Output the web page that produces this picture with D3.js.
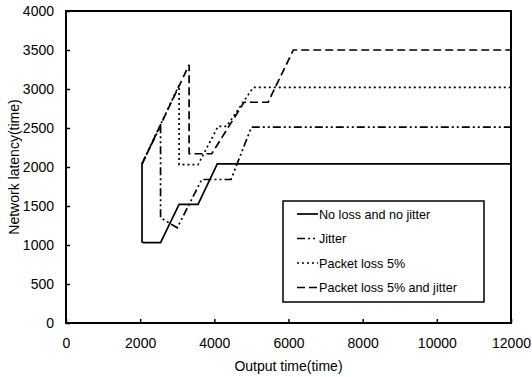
<!DOCTYPE html>
<html>
<head>
<meta charset="utf-8">
<script src="https://cdn.jsdelivr.net/npm/d3@7"></script>
<style>
  body { margin: 0; background: #fff; }
  text { font-family: Arial, "Liberation Sans", sans-serif; fill: #000; }
</style>
</head>
<body>
<svg id="chart" width="532" height="377"></svg>
<script>
// series, output time -> latency
const noLossTime    = [2050, 2050, 2100, 2550, 3050, 3560, 4080, 12000];
const noLossLatency = [2050, 1040, 1030, 1030, 1520, 1520, 2040, 2040];

const jitterTime    = [2050, 2550, 2550, 3000, 3660, 4450, 5000, 12000];
const jitterLatency = [2040, 2530, 1350, 1220, 1840, 1840, 2510, 2510];

const lossTime    = [2050, 3050, 3050, 3560, 4100, 4330, 5050, 12000];
const lossLatency = [2040, 3050, 2030, 2030, 2520, 2520, 3020, 3020];

const lossJitterTime    = [2050, 3320, 3320, 3930, 4800, 5450, 6130, 12000];
const lossJitterLatency = [2040, 3310, 2170, 2170, 2830, 2830, 3500, 3500];

const legendLabels = ['No loss and no jitter', 'Jitter', 'Packet loss 5%', 'Packet loss 5% and jitter'];
const xTicks = [0, 2000, 4000, 6000, 8000, 10000, 12000];
const yTicks = [0, 500, 1000, 1500, 2000, 2500, 3000, 3500, 4000];

const series = [
  { name: legendLabels[0], xs: noLossTime, ys: noLossLatency, dash: null },
  { name: legendLabels[1], xs: jitterTime, ys: jitterLatency, dash: '8,3,2,3,2,3' },
  { name: legendLabels[2], xs: lossTime, ys: lossLatency, dash: '2,3' },
  { name: legendLabels[3], xs: lossJitterTime, ys: lossJitterLatency, dash: '8,4' }
];

const margin = { left: 66, top: 11, right: 21, bottom: 54 };
const svg = d3.select('#chart');
const width = +svg.attr('width') - margin.left - margin.right;
const height = +svg.attr('height') - margin.top - margin.bottom;

const xScale = d3.scaleLinear().domain([0, 12000]).range([0, width]);
const yScale = d3.scaleLinear().domain([0, 4000]).range([height, 0]);

const g = svg.append('g').attr('transform', `translate(${margin.left},${margin.top})`);

// axes: ticks point inward, plain integer labels
const xAxis = g.append('g')
  .attr('transform', `translate(0,${height})`)
  .call(d3.axisBottom(xScale).tickValues(xTicks).tickFormat(d3.format('d'))
    .tickSizeInner(-4).tickSizeOuter(0).tickPadding(12));
const yAxis = g.append('g')
  .call(d3.axisLeft(yScale).tickValues(yTicks).tickFormat(d3.format('d'))
    .tickSizeInner(-4).tickSizeOuter(0).tickPadding(12));

[xAxis, yAxis].forEach(ax => {
  ax.select('.domain').remove();
  ax.selectAll('line').attr('stroke', '#000').attr('stroke-width', 1.5);
  ax.selectAll('text').attr('font-size', 14).attr('font-family', 'Arial, "Liberation Sans", sans-serif');
});
xAxis.selectAll('text').attr('dy', '0.9em');

// frame
g.append('rect')
  .attr('x', 0).attr('y', 0)
  .attr('width', width).attr('height', height)
  .attr('fill', 'none')
  .attr('stroke', '#000')
  .attr('stroke-width', 2);

const line = d3.line()
  .x(d => xScale(d[0]))
  .y(d => yScale(d[1]));

series.forEach(s => {
  g.append('path')
    .datum(d3.zip(s.xs, s.ys))
    .attr('fill', 'none')
    .attr('stroke', '#000')
    .attr('stroke-width', 1.7)
    .attr('stroke-dasharray', s.dash)
    .attr('d', line);
});

// legend
const legend = g.append('g').attr('transform', `translate(${283 - margin.left},${201 - margin.top})`);
legend.append('rect')
  .attr('width', 201).attr('height', 101)
  .attr('fill', '#fff')
  .attr('stroke', '#000')
  .attr('stroke-width', 1.5);

series.forEach((s, i) => {
  const y = 13 + i * 24.5;
  legend.append('line')
    .attr('x1', 14).attr('x2', 35)
    .attr('y1', y).attr('y2', y)
    .attr('stroke', '#000')
    .attr('stroke-width', 1.7)
    .attr('stroke-dasharray', s.dash);
  legend.append('text')
    .attr('x', 36).attr('y', y + 4.5)
    .attr('font-size', 12.6)
    .text(s.name);
});

// axis titles
svg.append('text')
  .attr('x', margin.left + width / 2)
  .attr('y', 371)
  .attr('text-anchor', 'middle')
  .attr('font-size', 14)
  .text('Output time(time)');

svg.append('text')
  .attr('transform', `translate(19,${margin.top + height / 2}) rotate(-90)`)
  .attr('text-anchor', 'middle')
  .attr('font-size', 14)
  .text('Network latency(time)');
</script>
</body>
</html>
